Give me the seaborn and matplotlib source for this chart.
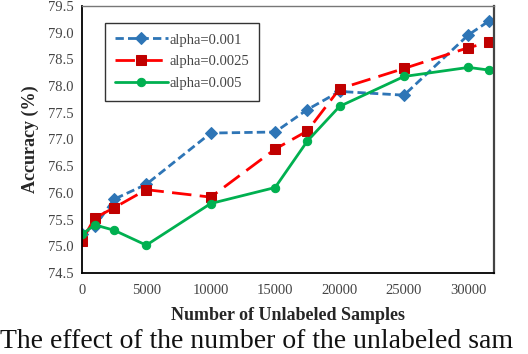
import matplotlib
matplotlib.use("Agg")
import matplotlib.pyplot as plt
import seaborn as sns
import pandas as pd

samples = [0, 1000, 2500, 5000, 10000, 15000, 17500, 20000, 25000, 30000, 31600]
acc_001 = [75.22, 75.37, 75.88, 76.16, 77.12, 77.14, 77.56, 77.90, 77.83, 78.96, 79.22]
acc_0025 = [75.10, 75.53, 75.72, 76.06, 75.92, 76.82, 77.16, 77.95, 78.33, 78.72, 78.82]
acc_005 = [75.22, 75.40, 75.30, 75.02, 75.80, 76.10, 76.97, 77.62, 78.18, 78.35, 78.30]
labels = ["alpha=0.001", "alpha=0.0025", "alpha=0.005"]
xticks = [0, 5000, 10000, 15000, 20000, 25000, 30000]
yticks = [74.5, 75.0, 75.5, 76.0, 76.5, 77.0, 77.5, 78.0, 78.5, 79.0, 79.5]
caption = "The effect of the number of the unlabeled sam"

sns.set_style("white")
plt.rcParams["font.family"] = ["Liberation Serif", "DejaVu Serif"]

fig = plt.figure(figsize=(5.28, 3.54), dpi=100)
ax = fig.add_axes([0.155, 0.229, 0.781, 0.754])

series = [
    (acc_001, labels[0], "#2E75B6", "#2E75B6", "D", (0, (3, 1.5)), 6.5),
    (acc_0025, labels[1], "#FF0000", "#C00000", "s", (0, (7, 3)), 7),
    (acc_005, labels[2], "#00B050", "#00B050", "o", "-", 6),
]
for vals, lab, lc, mc, mk, ls, ms in series:
    df = pd.DataFrame({"x": samples, "y": vals})
    sns.lineplot(data=df, x="x", y="y", ax=ax, color=lc, linewidth=2.0,
                 linestyle=ls, marker=mk, markersize=ms,
                 markerfacecolor=mc, markeredgecolor=mc, label=lab)

ax.set_xlim(0, 32000)
ax.set_ylim(74.5, 79.5)
ax.set_xticks(xticks)
ax.set_yticks(yticks)
ax.set_yticklabels([f"{v:.1f}" for v in yticks])
ax.tick_params(axis="both", direction="in", length=3, labelsize=10.5,
               colors="#222222", labelcolor="#444444")
ax.tick_params(axis="x", pad=8)
ax.tick_params(axis="y", pad=6)
for s in ["left", "bottom"]:
    ax.spines[s].set_color("black")
    ax.spines[s].set_linewidth(1.3)
ax.spines["top"].set_color("#777777")
ax.spines["right"].set_color("#444444")
ax.spines["right"].set_linewidth(1.6)
ax.spines["top"].set_linewidth(1.0)

ax.set_xlabel("Number of Unlabeled Samples", fontsize=13, fontweight="bold", labelpad=7)
ax.set_ylabel("Accuracy (%)", fontsize=13, fontweight="bold", labelpad=6)

leg = ax.legend(loc="upper left", bbox_to_anchor=(0.056, 0.936), borderaxespad=0,
                fontsize=10.5, frameon=True, fancybox=False, edgecolor="black",
                borderpad=0.7, labelspacing=0.6, handlelength=3.6, handletextpad=0.1)
leg.get_frame().set_linewidth(1.0)
for t in leg.get_texts():
    t.set_color("#444444")

fig.text(0.0, 0.0, caption, fontsize=20, color="#111111", ha="left", va="bottom")

fig.savefig("out.png", dpi=100)
